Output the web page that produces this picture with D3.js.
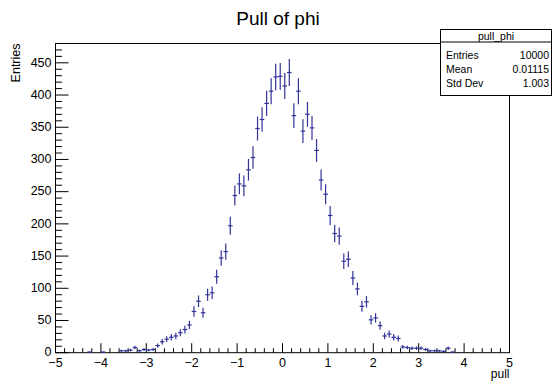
<!DOCTYPE html>
<html><head><meta charset="utf-8">
<script src="https://cdn.jsdelivr.net/npm/d3@7"></script>
<style>body{margin:0;background:#fff}svg{display:block}text{font-family:"Liberation Sans",Arial,sans-serif}</style>
</head><body><svg id="c" width="552" height="381"></svg>
<script>
const xMin = -5, xMax = 5, nBins = 100;
const counts = [0,0,0,0,0,0,0,1,0,0, 1,0,0,0,3,3,4,8,3,5, 4,5,11,17,21,24,26,31,36,43,
 64,80,62,90,93,118,147,157,197,244, 262,259,284,303,348,362,387,406,428,429,
 414,435,368,406,344,370,349,314,268,246, 213,185,181,142,145,116,99,72,79,51,
 54,42,26,29,24,22,9,8,7,7, 7,5,3,3,3,2,7,1,0,0, 0,0,0,0,0,0,0,0,0,0];
const xTicks = [-5,-4,-3,-2,-1,0,1,2,3,4,5];
const yTicks = [0,50,100,150,200,250,300,350,400,450];
const statsRows = [["Entries","10000"],["Mean","0.01115"],["Std Dev","1.003"]];
const titleText = "Pull of phi", histName = "pull_phi", xTitle = "pull", yTitle = "Entries";

const svg = d3.select("#c");
const L = 55.5, R = 509.5, T = 43.5, B = 352.7;
const x = d3.scaleLinear().domain([xMin, xMax]).range([L, R]);
const y = d3.scaleLinear().domain([0, 480]).range([B, T]);
const col = "#333399";
const bw = (xMax - xMin) / nBins;

// frame
svg.append("rect").attr("x", L).attr("y", T).attr("width", R - L).attr("height", B - T)
  .attr("fill", "none").attr("stroke", "#000").attr("stroke-width", 1);

// x ticks (inside)
const xMinor = d3.range(0, 51).map(i => xMin + i * 0.2);
svg.append("g").selectAll("line").data(xMinor).join("line")
  .attr("x1", d => x(d)).attr("x2", d => x(d))
  .attr("y1", B).attr("y2", d => B - (Math.abs(d - Math.round(d)) < 1e-6 ? 9.5 : 4.5))
  .attr("stroke", "#000").attr("stroke-width", 1);
svg.append("g").selectAll("text").data(xTicks).join("text")
  .attr("x", d => x(d)).attr("y", 366.5).attr("text-anchor", "middle")
  .attr("font-size", 12.5).text(d => d < 0 ? "\u2212" + Math.abs(d) : d);

// y ticks (inside)
const yMinor = d3.range(0, 48).map(i => i * 10);
svg.append("g").selectAll("line").data(yMinor).join("line")
  .attr("y1", d => y(d)).attr("y2", d => y(d))
  .attr("x1", L).attr("x2", d => L + (d % 50 === 0 ? 13 : 6.5))
  .attr("stroke", "#000").attr("stroke-width", 1);
svg.append("g").selectAll("text").data(yTicks).join("text")
  .attr("x", 51.5).attr("y", d => y(d)).attr("dy", "0.3em").attr("text-anchor", "end")
  .attr("font-size", 12.5).text(d => d);

// histogram with error bars
const bins = counts.map((c, i) => ({lo: xMin + i * bw, hi: xMin + (i + 1) * bw, c}))
  .filter(b => b.c > 0);
const g = svg.append("g").attr("stroke", col).attr("stroke-width", 1.2);
g.selectAll(".h").data(bins).join("line")
  .attr("x1", b => x(b.lo)).attr("x2", b => x(b.hi))
  .attr("y1", b => y(b.c)).attr("y2", b => y(b.c));
g.selectAll(".v").data(bins).join("line")
  .attr("x1", b => x((b.lo + b.hi) / 2)).attr("x2", b => x((b.lo + b.hi) / 2))
  .attr("y1", b => y(b.c - Math.sqrt(b.c))).attr("y2", b => y(b.c + Math.sqrt(b.c)));

// titles
svg.append("text").attr("x", 278).attr("y", 25).attr("text-anchor", "middle")
  .attr("font-size", 19).text(titleText);
svg.append("text").attr("x", R).attr("y", 378).attr("text-anchor", "end")
  .attr("font-size", 12).text(xTitle);
svg.append("text").attr("transform", `translate(19.5,${T}) rotate(-90)`)
  .attr("text-anchor", "end").attr("font-size", 12.5).text(yTitle);

// stats box
const sx0 = 440.5, sx1 = 551.5, sy0 = 29.5, sy1 = 95.5;
svg.append("rect").attr("x", sx0).attr("y", sy0).attr("width", sx1 - sx0).attr("height", sy1 - sy0)
  .attr("fill", "#fff").attr("stroke", "#000").attr("stroke-width", 1);
svg.append("line").attr("x1", sx0).attr("x2", sx1).attr("y1", 42).attr("y2", 42)
  .attr("stroke", "#000").attr("stroke-width", 1);
svg.append("text").attr("x", (sx0 + sx1) / 2).attr("y", 39.5).attr("text-anchor", "middle")
  .attr("font-size", 10.5).text(histName);
statsRows.forEach((r, i) => {
  svg.append("text").attr("x", 446).attr("y", 59 + i * 14).attr("font-size", 10.5).text(r[0]);
  svg.append("text").attr("x", 549).attr("y", 59 + i * 14).attr("text-anchor", "end")
    .attr("font-size", 10.5).text(r[1]);
});
</script></body></html>
